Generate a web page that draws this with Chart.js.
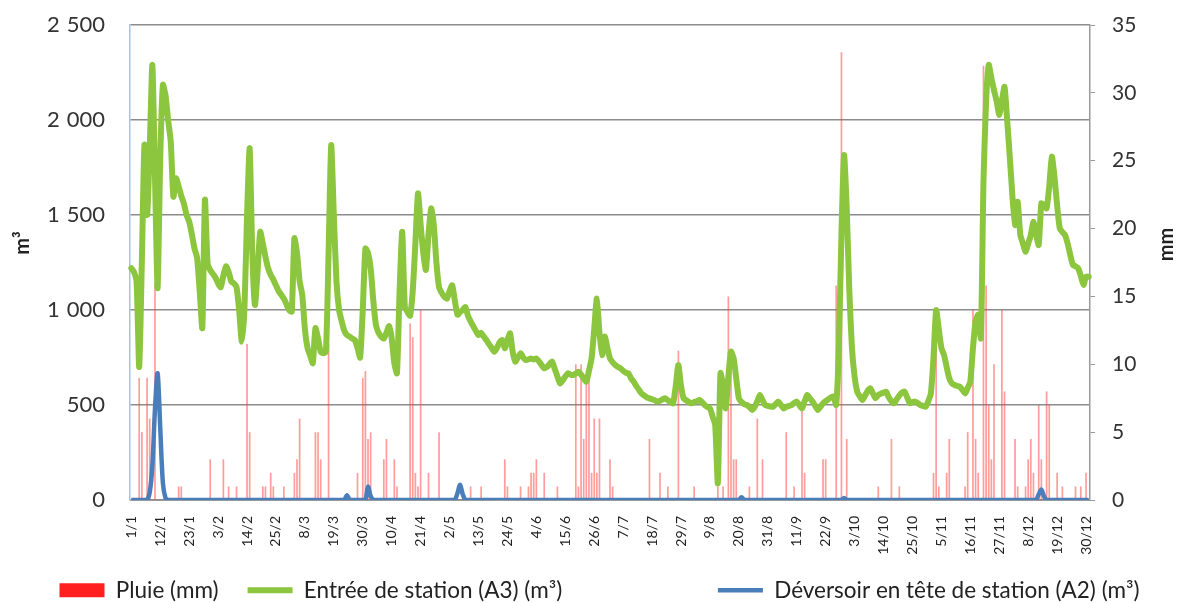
<!DOCTYPE html>
<html>
<head>
<meta charset="utf-8">
<script src="https://cdn.jsdelivr.net/npm/chart.js@4.4.0/dist/chart.umd.min.js"></script>
<style>
    html, body { margin: 0; padding: 0; background: #fff; }
    #wrap { width: 1179px; height: 603px; }
</style>
</head>
<body>
<div id="wrap"><canvas id="chart"></canvas></div>
<script>
// Tick labels shown on the x axis (one every 11 days)
const tickLabels = ['1/1', '12/1', '23/1', '3/2', '14/2', '25/2', '8/3', '19/3', '30/3', '10/4', '21/4',
    '2/5', '13/5', '24/5', '4/6', '15/6', '26/6', '7/7', '18/7', '29/7', '9/8', '20/8', '31/8',
    '11/9', '22/9', '3/10', '14/10', '25/10', '5/11', '16/11', '27/11', '8/12', '19/12', '30/12'];

// Entrée de station (A3), m3 per day
const entree = [
    1220, 1200, 1150, 700, 1250, 1870, 1500, 1850, 2290, 1700,
    1115, 1800, 2185, 2130, 2000, 1885, 1596, 1693, 1650, 1600,
    1560, 1500, 1465, 1400, 1325, 1275, 1100, 905, 1580, 1245,
    1210, 1190, 1170, 1140, 1120, 1180, 1230, 1200, 1150, 1140,
    1120, 1000, 833, 1000, 1500, 1851, 1300, 1026, 1200, 1412,
    1350, 1280, 1220, 1184, 1160, 1130, 1100, 1080, 1060, 1030,
    1000, 991, 1377, 1300, 1150, 1080, 900, 800, 760, 720,
    905, 850, 780, 773, 780, 1300, 1868, 1500, 1150, 1000,
    940, 890, 868, 860, 850, 842, 800, 750, 1000, 1324,
    1300, 1220, 1050, 921, 880, 860, 850, 880, 915, 850,
    720, 667, 1100, 1412, 1015, 990, 970, 1100, 1350, 1614,
    1450, 1300, 1211, 1400, 1535, 1450, 1250, 1120, 1090, 1070,
    1060, 1100, 1130, 1050, 975, 990, 1000, 1015, 970, 940,
    915, 890, 868, 880, 860, 842, 820, 800, 780, 800,
    830, 842, 798, 840, 877, 780, 728, 750, 773, 750,
    737, 740, 745, 740, 745, 730, 710, 693, 700, 715,
    728, 690, 650, 614, 630, 650, 667, 660, 658, 665,
    675, 660, 640, 623, 680, 745, 900, 1060, 880, 763,
    860, 800, 745, 725, 710, 700, 693, 680, 670, 667,
    640, 623, 600, 580, 561, 550, 540, 535, 530, 525,
    518, 522, 530, 535, 525, 515, 509, 600, 711, 600,
    535, 525, 515, 509, 515, 520, 526, 515, 500, 490,
    482, 440, 395, 88, 667, 600, 482, 650, 781, 745,
    640, 535, 515, 505, 500, 490, 474, 490, 520, 553,
    525, 500, 495, 492, 491, 505, 518, 500, 482, 490,
    495, 500, 510, 518, 500, 482, 520, 553, 535, 518,
    495, 474, 490, 509, 520, 530, 540, 544, 500, 798,
    1400, 1816, 1535, 1100, 798, 650, 570, 545, 526, 550,
    575, 588, 560, 535, 553, 560, 565, 570, 540, 520,
    509, 530, 550, 565, 570, 540, 509, 515, 518, 510,
    500, 495, 491, 520, 561, 750, 1000, 900, 800, 763,
    700, 640, 614, 605, 600, 596, 580, 561, 590, 623,
    800, 939, 975, 851, 1675, 2100, 2290, 2220, 2158, 2100,
    2026, 2100, 2175, 2000, 1807, 1600, 1447, 1570, 1395, 1350,
    1307, 1350, 1395, 1465, 1400, 1342, 1561, 1550, 1535, 1650,
    1807, 1700, 1550, 1430, 1410, 1395, 1350, 1290, 1237, 1230,
    1220, 1180, 1132, 1175, 1175
];

// Déversoir en tête de station (A2), m3 per day
const deversoir = [
    0, 0, 0, 0, 0, 0, 0, 40, 180, 480,
    667, 380, 90, 10, 0, 0, 0, 0, 0, 0,
    0, 0, 0, 0, 0, 0, 0, 0, 0, 0,
    0, 0, 0, 0, 0, 0, 0, 0, 0, 0,
    0, 0, 0, 0, 0, 0, 0, 0, 0, 0,
    0, 0, 0, 0, 0, 0, 0, 0, 0, 0,
    0, 0, 0, 0, 0, 0, 0, 0, 0, 0,
    0, 0, 0, 0, 0, 0, 0, 0, 0, 0,
    0, 0, 25, 0, 0, 0, 0, 0, 0, 0,
    70, 20, 0, 0, 0, 0, 0, 0, 0, 0,
    0, 0, 0, 0, 0, 0, 0, 0, 0, 0,
    0, 0, 0, 0, 0, 0, 0, 0, 0, 0,
    0, 0, 0, 0, 35, 80, 30, 0, 0, 0,
    0, 0, 0, 0, 0, 0, 0, 0, 0, 0,
    0, 0, 0, 0, 0, 0, 0, 0, 0, 0,
    0, 0, 0, 0, 0, 0, 0, 0, 0, 0,
    0, 0, 0, 0, 0, 0, 0, 0, 0, 0,
    0, 0, 0, 0, 0, 0, 0, 0, 0, 0,
    0, 0, 0, 0, 0, 0, 0, 0, 0, 0,
    0, 0, 0, 0, 0, 0, 0, 0, 0, 0,
    0, 0, 0, 0, 0, 0, 0, 0, 0, 0,
    0, 0, 0, 0, 0, 0, 0, 0, 0, 0,
    0, 0, 0, 0, 0, 0, 0, 0, 0, 0,
    0, 0, 15, 0, 0, 0, 0, 0, 0, 0,
    0, 0, 0, 0, 0, 0, 0, 0, 0, 0,
    0, 0, 0, 0, 0, 0, 0, 0, 0, 0,
    0, 0, 0, 0, 0, 0, 0, 0, 0, 0,
    0, 10, 0, 0, 0, 0, 0, 0, 0, 0,
    0, 0, 0, 0, 0, 0, 0, 0, 0, 0,
    0, 0, 0, 0, 0, 0, 0, 0, 0, 0,
    0, 0, 0, 0, 0, 0, 0, 0, 0, 0,
    0, 0, 0, 0, 0, 0, 0, 0, 0, 0,
    0, 0, 0, 0, 0, 0, 0, 0, 0, 0,
    0, 0, 0, 0, 0, 0, 0, 0, 0, 0,
    0, 0, 0, 0, 0, 30, 55, 20, 0, 0,
    0, 0, 0, 0, 0, 0, 0, 0, 0, 0,
    0, 0, 0, 0, 0
];

// Pluie, mm per day
const pluie = [
    0, 0, 0, 9, 5, 0, 9, 6, 0, 16,
    0, 0, 0, 0, 0, 0, 0, 0, 1, 1,
    0, 0, 0, 0, 0, 0, 0, 0, 0, 0,
    3, 0, 0, 0, 0, 3, 0, 1, 0, 0,
    1, 0, 0, 0, 11.5, 5, 0, 0, 0, 0,
    1, 1, 0, 2, 1, 0, 0, 0, 1, 0,
    0, 0, 2, 3, 6, 0, 0, 0, 0, 0,
    5, 5, 3, 0, 0, 11.5, 0, 0, 0, 0,
    0, 0, 0, 0, 0, 0, 2, 0, 9, 9.5,
    4.5, 5, 0, 0, 0, 0, 3, 4.5, 0, 0,
    3, 1, 0, 0, 0, 0, 13, 12, 2, 1,
    14, 0, 0, 2, 0, 0, 0, 5, 0, 0,
    0, 0, 0, 0, 0, 0, 0, 0, 0, 1,
    0, 0, 0, 1, 0, 0, 0, 0, 0, 0,
    0, 0, 3, 1, 0, 0, 0, 0, 1, 0,
    0, 1, 2, 2, 3, 0, 0, 2, 0, 0,
    0, 0, 1, 0, 0, 0, 0, 0, 0, 10,
    1, 10, 4.5, 9, 9, 2, 6, 2, 6, 0,
    0, 0, 3, 1, 0, 0, 0, 0, 0, 0,
    0, 0, 0, 0, 0, 0, 0, 4.5, 0, 0,
    0, 2, 0, 0, 1, 0, 0, 0, 11, 0,
    0, 0, 0, 0, 1, 0, 0, 0, 0, 0,
    0, 0, 0, 1, 0, 1, 0, 15, 9.5, 3,
    3, 0, 0, 0, 0, 1, 0, 0, 6, 0,
    3, 0, 0, 0, 0, 0, 0, 0, 0, 5,
    0, 0, 1, 0, 0, 7, 2, 0, 0, 0,
    0, 0, 0, 3, 3, 0, 0, 0, 15.8, 0,
    33, 0, 4.5, 0, 0, 0, 0, 0, 0, 0,
    0, 0, 0, 0, 1, 0, 0, 0, 0, 4.5,
    0, 0, 1, 0, 0, 0, 0, 0, 0, 0,
    0, 0, 0, 0, 0, 2, 14, 1, 0, 0,
    2, 4.5, 0, 0, 0, 0, 0, 1, 5, 0,
    14, 4.5, 2, 0, 32, 15.8, 7, 3, 10, 0,
    0, 14, 8, 0, 0, 0, 4.5, 1, 0, 0,
    1, 3, 4.5, 2, 0, 7, 3, 0, 8, 7,
    0, 0, 2, 0, 1, 0, 0, 0, 0, 1,
    0, 1, 0, 2, 0
];

const days = entree.map((v, i) => i);
const FONT = 'Lato, "Liberation Sans", sans-serif';

// legend gaps after each entry, in spaces (Excel spreads them unevenly)
const legendGaps = [4, 26, 0];

function formatThousands(v) {
    return String(v).replace(/\B(?=(\d{3})+(?!\d))/g, '\u00a0\u200a');
}

// keep the legend strip short and nudge it a little to the right
const legendTweak = {
    id: 'legendTweak',
    beforeLayout(chart) {
        const legend = chart.legend;
        if (legend && !legend._patched) {
            const fit = legend.fit;
            legend.fit = function () {
                fit.call(this);
                this.height = 30;
            };
            const draw = legend._draw;
            legend._draw = function () {
                this.ctx.save();
                this.ctx.translate(10, 0);
                draw.call(this);
                this.ctx.restore();
            };
            legend._patched = true;
        }
    }
};

// right axis title, rotated the same way as the left one
const rightTitle = {
    id: 'rightTitle',
    afterDraw(chart) {
        const scale = chart.scales.y1;
        const c = chart.ctx;
        c.save();
        c.translate(scale.right - 12, (scale.top + scale.bottom) / 2 - 18);
        c.rotate(-Math.PI / 2);
        c.font = 'bold 20px ' + FONT;
        c.fillStyle = '#222';
        c.textAlign = 'center';
        c.textBaseline = 'middle';
        c.fillText('mm', 0, 0);
        c.restore();
    }
};

const ctx = document.getElementById('chart');
new Chart(ctx, {
    type: 'bar',
    data: {
        labels: days,
        datasets: [
            {
                type: 'bar',
                label: 'Pluie (mm)',
                data: pluie,
                yAxisID: 'y1',
                backgroundColor: 'rgba(255, 60, 60, 0.5)',
                borderWidth: 0,
                barPercentage: 1,
                categoryPercentage: 0.65,
                pointStyle: 'rect',
                order: 3
            },
            {
                type: 'line',
                label: 'Entrée de station (A3) (m³)',
                data: entree,
                yAxisID: 'y',
                borderColor: '#8cc63f',
                borderWidth: 6,
                borderJoinStyle: 'round',
                borderCapStyle: 'round',
                tension: 0.2,
                pointRadius: 0,
                pointStyle: 'line',
                order: 2
            },
            {
                type: 'line',
                label: 'Déversoir en tête de station (A2) (m³)',
                data: deversoir,
                yAxisID: 'y',
                borderColor: '#4a7ebb',
                borderWidth: 4.5,
                borderJoinStyle: 'round',
                tension: 0.3,
                pointRadius: 0,
                pointStyle: 'line',
                order: 1
            }
        ]
    },
    options: {
        responsive: true,
        maintainAspectRatio: false,
        animation: false,
        layout: { padding: { top: 25, left: 0, right: 0, bottom: 0 } },
        plugins: {
            tooltip: { enabled: false },
            legend: {
                position: 'bottom',
                labels: {
                    usePointStyle: true,
                    pointStyleWidth: 45,
                    boxHeight: 14,
                    padding: 6,
                    color: '#222',
                    font: { family: FONT, size: 22.5 },
                    sort: (a, b) => a.datasetIndex - b.datasetIndex,
                    generateLabels: chart => {
                        const items = Chart.defaults.plugins.legend.labels.generateLabels(chart);
                        items.forEach(item => {
                            item.text = item.text + ' '.repeat(legendGaps[item.datasetIndex]);
                            if (item.datasetIndex === 0) {
                                item.fillStyle = '#ff1f1f';
                                item.strokeStyle = '#ff1f1f';
                                item.lineWidth = 0;
                            }
                        });
                        return items;
                    }
                }
            }
        },
        scales: {
            x: {
                grid: { display: false },
                border: { color: '#9a9a9a' },
                ticks: {
                    autoSkip: false,
                    minRotation: 90,
                    maxRotation: 90,
                    padding: 8,
                    color: '#222',
                    font: { family: FONT, size: 14 },
                    callback: (value, index) => index % 11 === 0 ? tickLabels[index / 11] : null
                },
                afterFit: scale => { scale.height = 73; }
            },
            y: {
                position: 'left',
                min: 0,
                max: 2500,
                grid: { color: '#8c8c8c', lineWidth: 1.5, drawTicks: false },
                border: { color: '#a8c2e4', width: 1.5 },
                ticks: {
                    stepSize: 500,
                    padding: 25,
                    color: '#333',
                    font: { family: FONT, size: 22 },
                    callback: value => formatThousands(value)
                },
                title: {
                    display: true,
                    text: '        m³',
                    color: '#222',
                    padding: { top: 11, bottom: 0 },
                    font: { family: FONT, size: 20, weight: 'bold' }
                },
                afterFit: scale => {
                    scale.width = 130;
                    scale.paddingTop = 0;
                    scale.paddingBottom = 0;
                }
            },
            y1: {
                position: 'right',
                min: 0,
                max: 35,
                grid: { drawOnChartArea: false, color: '#9a9a9a', tickLength: 5 },
                border: { color: '#9a9a9a', width: 1.5 },
                ticks: {
                    stepSize: 5,
                    padding: 17,
                    color: '#333',
                    font: { family: FONT, size: 21 },
                    callback: value => value
                },
                afterFit: scale => {
                    scale.width = 89;
                    scale.paddingTop = 0;
                    scale.paddingBottom = 0;
                }
            }
        }
    },
    plugins: [legendTweak, rightTitle]
});
</script>
</body>
</html>
